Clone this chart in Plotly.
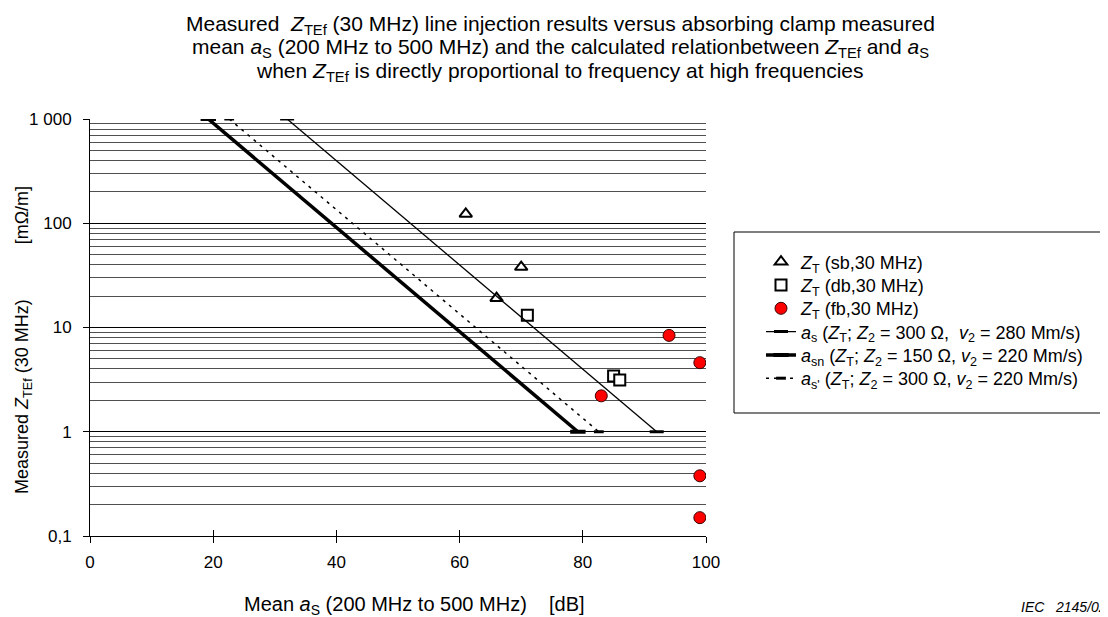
import plotly.graph_objects as go

# ---- data ----
sb_x = [61, 70, 66]
sb_y = [123, 38, 19.1]
db_x = [71, 85, 86]
db_y = [13.1, 3.42, 3.13]
fb_x = [83, 94, 99, 99, 99]
fb_y = [2.21, 8.4, 4.6, 0.378, 0.15]

# calculated relations (end points of each straight line)
as_x = [32.0, 92.0]
as_y = [1000, 1]
asn_x = [19.2, 79.2]
asn_y = [1000, 1]
asp_x = [22.6, 82.6]
asp_y = [1000, 1]

x_ticks = [0, 20, 40, 60, 80, 100]
y_ticks = [0.1, 1, 10, 100, 1000]
y_ticktext = ["0,1", "1", "10", "100", "1 000"]
y_minor = [m * d for d in [0.1, 1, 10, 100] for m in range(2, 10)]

FONT = "Arial, 'Liberation Sans', sans-serif"
NB = "\u00a0"

# page (browser) pixel -> paper coordinate helpers; plot area spans
# x 90..706 and y 119..536 in page pixels
def py(px):
    return (536 - px) / 417.0

def pxx(px):
    return (px - 90) / 616.0

fig = go.Figure()

traces = [
    dict(x=sb_x, y=sb_y, mode="markers",
         name="<i>Z</i><sub>T</sub> (sb,30 MHz)",
         marker=dict(symbol="triangle-up", size=11, color="white",
                     line=dict(color="black", width=2))),
    dict(x=db_x, y=db_y, mode="markers",
         name="<i>Z</i><sub>T</sub> (db,30 MHz)",
         marker=dict(symbol="square", size=11, color="white",
                     line=dict(color="black", width=2))),
    dict(x=fb_x, y=fb_y, mode="markers",
         name="<i>Z</i><sub>T</sub> (fb,30 MHz)",
         marker=dict(symbol="circle", size=12, color="#ff0000",
                     line=dict(color="#3a0000", width=1))),
    dict(x=as_x, y=as_y, mode="lines+markers",
         name="<i>a</i><sub>s</sub> (<i>Z</i><sub>T</sub>; <i>Z</i><sub>2</sub> = 300 Ω," + NB + NB
              + "<i>v</i><sub>2</sub> = 280 Mm/s)",
         line=dict(color="black", width=1.3),
         marker=dict(symbol="line-ew", size=10, color="black",
                     line=dict(color="black", width=3))),
    dict(x=asn_x, y=asn_y, mode="lines+markers",
         name="<i>a</i><sub>sn</sub> (<i>Z</i><sub>T</sub>; <i>Z</i><sub>2</sub> = 150 Ω, "
              "<i>v</i><sub>2</sub> = 220 Mm/s)",
         line=dict(color="black", width=3.5),
         marker=dict(symbol="line-ew", size=11, color="black",
                     line=dict(color="black", width=4))),
    dict(x=asp_x, y=asp_y, mode="lines+markers",
         name="<i>a</i><sub>s'</sub> (<i>Z</i><sub>T</sub>; <i>Z</i><sub>2</sub> = 300 Ω, "
              "<i>v</i><sub>2</sub> = 220 Mm/s)",
         line=dict(color="black", width=1.5, dash="3px,5px"),
         marker=dict(symbol="line-ew", size=7, color="black",
                     line=dict(color="black", width=3))),
]

legend_layout = {}
for i, t in enumerate(traces):
    key = "legend" if i == 0 else f"legend{i + 1}"
    fig.add_trace(go.Scatter(legend=key, **t))
    legend_layout[key] = dict(
        x=pxx(761), y=py(262 + i * 23.3), xanchor="left", yanchor="middle",
        bgcolor="rgba(0,0,0,0)", borderwidth=0,
        font=dict(size=18, family=FONT))

# dummy trace to carry overlay axes (inner half of crossing ticks)
fig.add_trace(go.Scatter(x=[None], y=[None], xaxis="x2", yaxis="y2",
                         showlegend=False, hoverinfo="skip"))

fig.update_layout(
    width=1100, height=609,
    margin=dict(l=82, r=402, t=111, b=81),
    paper_bgcolor="white", plot_bgcolor="white",
    font=dict(family=FONT, color="black", size=17),
    showlegend=True,
    xaxis=dict(range=[0, 100], tickmode="array", tickvals=x_ticks,
               ticks="outside", ticklen=6, tickcolor="black",
               showline=True, linecolor="black", linewidth=1,
               showgrid=False, zeroline=False,
               tickfont=dict(size=17), ticklabelstandoff=5),
    yaxis=dict(type="log", range=[-1, 3], tickmode="array",
               tickvals=y_ticks, ticktext=y_ticktext,
               ticks="outside", ticklen=6, tickcolor="black",
               showline=True, linecolor="black", linewidth=1,
               showgrid=True, gridcolor="black", gridwidth=1,
               minor=dict(tickmode="array", tickvals=y_minor, showgrid=True,
                          gridcolor="#505050", gridwidth=1, ticks=""),
               zeroline=False, tickfont=dict(size=17), ticklabelstandoff=8),
    xaxis2=dict(range=[0, 100], overlaying="x", anchor="y2", side="bottom",
                tickmode="array", tickvals=x_ticks, ticks="inside", ticklen=6,
                tickcolor="black", showticklabels=False, showgrid=False,
                showline=False, zeroline=False),
    yaxis2=dict(type="log", range=[-1, 3], overlaying="y", anchor="x2",
                side="left", tickmode="array", tickvals=y_ticks,
                ticks="inside", ticklen=6, tickcolor="black",
                showticklabels=False, showgrid=False, showline=False,
                zeroline=False),
    **legend_layout,
)

# legend frame
fig.add_shape(type="rect", xref="paper", yref="paper",
              x0=pxx(734), x1=pxx(1130), y0=py(413), y1=py(232),
              line=dict(color="black", width=1), fillcolor="rgba(0,0,0,0)")

title_lines = [
    "Measured" + NB + NB + "<i>Z</i><sub>TEf</sub> (30 MHz) line injection results versus absorbing clamp measured",
    "mean <i>a</i><sub>S</sub> (200 MHz to 500 MHz) and the calculated relationbetween "
    "<i>Z</i><sub>TEf</sub> and <i>a</i><sub>S</sub>",
    "when <i>Z</i><sub>TEf</sub> is directly proportional to frequency at high frequencies",
]
title_y = [25, 48.5, 72]
for t, yy in zip(title_lines, title_y):
    fig.add_annotation(text=t, xref="paper", yref="paper", x=pxx(560), y=py(yy),
                       xanchor="center", yanchor="middle", showarrow=False,
                       font=dict(size=21, family=FONT))

fig.add_annotation(text="Mean <i>a</i><sub>S</sub> (200 MHz to 500 MHz)" + NB * 4 + "[dB]",
                   xref="paper", yref="paper", x=pxx(414), y=py(605),
                   xanchor="center", yanchor="middle", showarrow=False,
                   font=dict(size=20, family=FONT))

fig.add_annotation(text="Measured <i>Z</i><sub>TEf</sub> (30 MHz)" + NB * 11 + "[mΩ/m]",
                   xref="paper", yref="paper", x=pxx(23), y=py(340),
                   xanchor="center", yanchor="middle", textangle=-90,
                   showarrow=False, font=dict(size=18, family=FONT))

fig.add_annotation(text="<i>IEC" + NB * 3 + "2145/02</i>",
                   xref="paper", yref="paper", x=pxx(1019), y=py(607),
                   xanchor="left", yanchor="middle", showarrow=False,
                   font=dict(size=14, family=FONT))

fig.write_html("out.html")
